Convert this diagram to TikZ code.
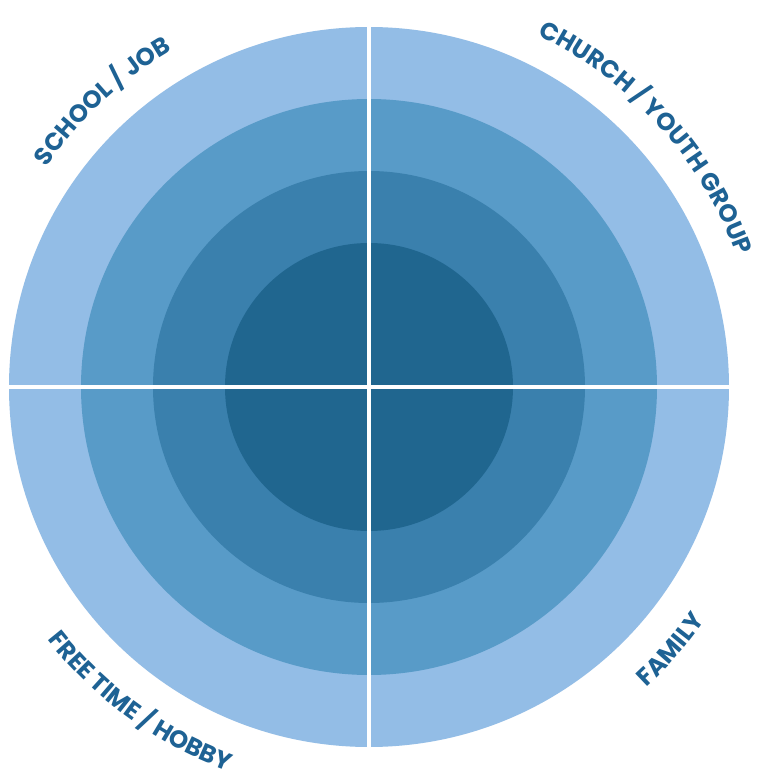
\documentclass[tikz,border=0pt]{standalone}
\usepackage{fontspec}
\newfontfamily\labfont{Poppins}
\usetikzlibrary{decorations.text}
\definecolor{ringA}{RGB}{147,189,230}
\definecolor{ringB}{RGB}{88,155,200}
\definecolor{ringC}{RGB}{58,128,173}
\definecolor{ringD}{RGB}{32,102,143}
\definecolor{labcol}{RGB}{30,98,148}
\tikzset{
  ringlabel/.style={decorate, decoration={text along path, text align=center,
     text format delimiters={|}{|}, text={|\labfont\bfseries\fontsize{24.5}{24.5}\selectfont\color{labcol}|#1}}},
  divider/.style={draw=white, line width=4pt}
}
\begin{document}
\begin{tikzpicture}[x=1pt,y=1pt]
\useasboundingbox (-369,-394) rectangle (390,387);
\fill[white] (-369,-394) rectangle (390,387);
\fill[ringA] (0,0) circle[radius=360];
\fill[ringB] (0,0) circle[radius=288];
\fill[ringC] (0,0) circle[radius=216];
\fill[ringD] (0,0) circle[radius=144];
\path[divider] (0,-362) -- (0,362);
\path[divider] (-362,0) -- (362,0);
\path[ringlabel={CHURCH / YOUTH GROUP}] (75:390) arc[start angle=75, end angle=9, radius=390];
\path[ringlabel={SCHOOL / JOB}] (166:390) arc[start angle=166, end angle=100, radius=390];
\path[ringlabel={FREE TIME / HOBBY}] (-159:409) arc[start angle=-159, end angle=-93, radius=409];
\path[ringlabel={FAMILY}] (-74:409) arc[start angle=-74, end angle=-8, radius=409];
\end{tikzpicture}
\end{document}
